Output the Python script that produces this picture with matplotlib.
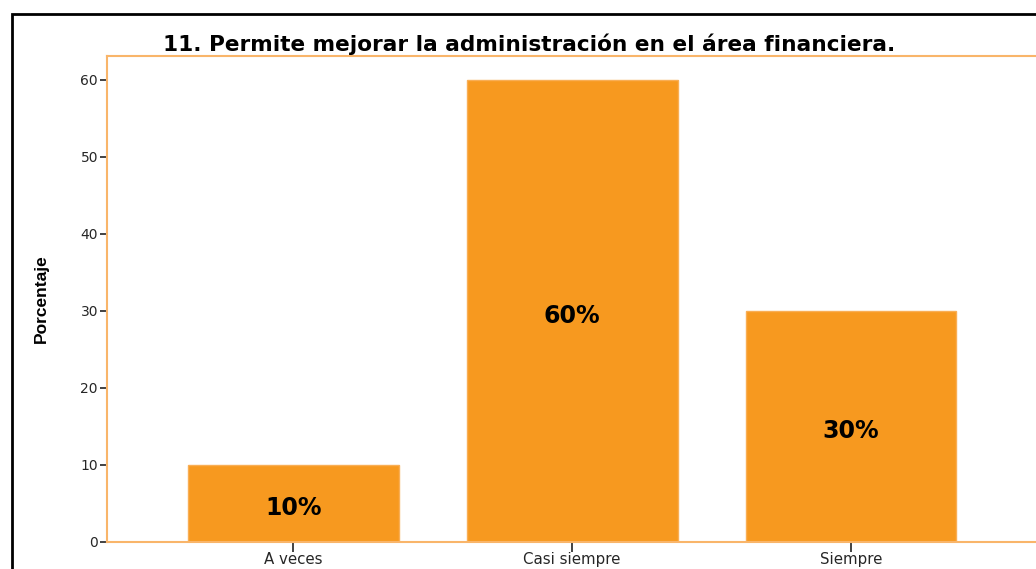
import matplotlib
matplotlib.use("Agg")
import matplotlib.pyplot as plt
from matplotlib.patches import Rectangle

categories = ["A veces", "Casi siempre", "Siempre"]
percentages = [10, 60, 30]
bar_labels = ["10%", "60%", "30%"]
y_ticks = [0, 10, 20, 30, 40, 50, 60]
title = "11. Permite mejorar la administración en el área financiera."
y_label = "Porcentaje"

plt.rcParams["font.family"] = ["DejaVu Sans"]

bar_color = "#F7991F"
frame_color = "#F9B56A"
text_color = "#262626"

fig = plt.figure(figsize=(10.36, 5.69), dpi=100)
ax = fig.add_axes([0.1033, 0.0475, 0.898, 0.854])

x = list(range(len(categories)))
ax.bar(x, percentages, width=0.756, color=bar_color, edgecolor="#F9AE55",
       linewidth=1.0, zorder=2)

# value labels sit at half the bar height
for xi, v, lab in zip(x, percentages, bar_labels):
    ax.annotate(lab, (xi, v / 2), xytext=(0, -8.6), textcoords="offset points",
                ha="center", va="baseline", fontsize=17, fontweight="bold",
                color="black", zorder=3)

ax.set_xlim(-0.668, 2.668)
ax.set_ylim(0, 63.1)
ax.set_xticks(x)
ax.set_xticklabels(categories, fontsize=10.8, color=text_color)
ax.set_yticks(y_ticks)
ax.set_yticklabels([str(t) for t in y_ticks], fontsize=10, color=text_color)
ax.tick_params(axis="y", length=5, width=1.2, color="#222222", pad=1.5)
ax.tick_params(axis="x", length=7, width=1.2, color="#222222", pad=0.5)

for s in ax.spines.values():
    s.set_color(frame_color)
    s.set_linewidth(1.5)

ax.set_ylabel(y_label, fontsize=12.5, fontweight="bold",
              family=["Liberation Sans Narrow", "Liberation Sans", "DejaVu Sans"])
ax.yaxis.set_label_coords(-0.063, 0.5)

fig.text(529 / 1036, 1 - 51 / 569, title, ha="center", va="baseline",
         fontsize=15.6, fontweight="bold", color="black")

# outer black frame around the chart
fig.add_artist(Rectangle((11.5 / 1036, -0.2), 1.2, 1.2 - 13.5 / 569,
                         transform=fig.transFigure, fill=False,
                         edgecolor="black", linewidth=2, clip_on=False))

fig.savefig("out.png", dpi=100)
